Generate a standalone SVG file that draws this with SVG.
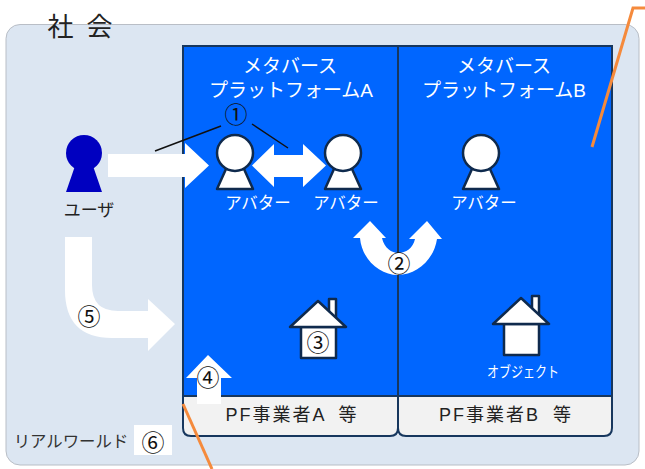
<svg xmlns="http://www.w3.org/2000/svg" width="645" height="469" viewBox="0 0 645 469">
<style>
text{font-family:"Liberation Sans","Noto Sans CJK JP",sans-serif;text-anchor:middle}
.w{fill:#fff}
.k{fill:#222}
.n{fill:#111;font-size:23px}
.t{font-size:19px}
.s{font-size:18px;letter-spacing:2px;word-spacing:6px}
.a{font-size:16.500px}
.av circle,.av path,.house path{fill:#fff;stroke:#0f2a4d;stroke-width:2.500;stroke-linejoin:round}
.arrow{fill:#fff}
.or{fill:none;stroke:#f58a3c;stroke-width:3}
.ln{stroke:#111;stroke-width:1.500;fill:none}
</style>
<defs>
<g id="avatar" class="av"><path d="M-9 16H9L18 36H-18Z"/><circle cy="0" r="18"/></g>
<g id="house" class="house"><path d="M11-29H18V-8H11Z"/><path d="M-17-1H18V30H-17Z"/><path d="M0-27L28 -1H-28Z"/></g>
</defs>
<g id="society">
<rect x="6" y="24.500" width="633" height="440.500" rx="14" fill="#dce6f2" stroke="#b9bec6" stroke-width="1"/>
<text x="80" y="36" class="k" font-size="26" word-spacing="6" xml:space="preserve">社 会</text>
</g>
<g id="platform-a">
<path d="M183 46H398V396H183Z" fill="#0066ff"/>
<path d="M183 396H398V428Q398 436 390 436H191Q183 436 183 428Z" fill="#f2f2f2"/>
<path d="M398 46H183V428Q183 436 191 436H390Q398 436 398 428V46M183 396H398" fill="none" stroke="#17375e" stroke-width="2"/>
<text x="290" y="73" class="w t">メタバース</text>
<text x="291" y="97" class="w t">プラットフォームA</text>
<text x="292" y="421" class="k s" xml:space="preserve">PF事業者A 等</text>
</g>
<g id="platform-b">
<path d="M398 46H612V396H398Z" fill="#0066ff"/>
<path d="M398 396H612V428Q612 436 604 436H406Q398 436 398 428Z" fill="#f2f2f2"/>
<path d="M398 46H612V428Q612 436 604 436H406Q398 436 398 428V46M398 396H612" fill="none" stroke="#17375e" stroke-width="2"/>
<text x="504" y="73" class="w t">メタバース</text>
<text x="504" y="97" class="w t">プラットフォームB</text>
<text x="506" y="421" class="k s" xml:space="preserve">PF事業者B 等</text>
</g>
<g id="connectors">
<path class="arrow" d="M108 154H185V143L209 165.500 185 188V177H108Z"/>
<path class="arrow" d="M252 165.500L274 144V155H303V144L326 165.500 303 187V177H274V187Z"/>
<path class="arrow" d="M65 237H92V285Q92 311 118 311H148V299L175 324 148 351V338H112Q65 338 65 290Z"/>
<path class="arrow" d="M208 355L232 378H221V404H197V378H186Z"/>
<path class="arrow" d="M370 221L386 238H382C384 248 392 253 398 253C406 253 413 248 415 239H409L427 221 442 239H437C434 260 416 275 398 275C380 275 362 260 360 238H353Z"/>
<path class="ln" d="M155 151L221 126M252 124L288 148"/>
<path class="or" d="M645 8H633L592 147"/>
<path class="or" d="M183 404L212 469"/>
</g>
<g id="user">
<circle cx="84" cy="153" r="18" fill="#0000c0"/>
<path d="M75 166H93L102 192H66Z" fill="#0000c0"/>
<text x="89" y="216" class="k" font-size="17">ユーザ</text>
</g>
<g id="avatar-a1"><use href="#avatar" x="235" y="153"/><text x="258" y="209" class="w a">アバター</text></g>
<g id="avatar-a2"><use href="#avatar" x="343" y="153"/><text x="346" y="209" class="w a">アバター</text></g>
<g id="avatar-b"><use href="#avatar" x="481" y="153"/><text x="484" y="209" class="w a">アバター</text></g>
<g id="object-a"><use href="#house" x="318" y="328"/></g>
<g id="object-b"><use href="#house" x="521" y="325"/><text x="523" y="377" class="w" font-size="15" textLength="72" lengthAdjust="spacingAndGlyphs">オブジェクト</text></g>
<g id="labels">
<text x="236" y="123" class="n">①</text>
<text x="399" y="272" class="n">②</text>
<text x="318" y="351" class="n">③</text>
<text x="208" y="386" class="n">④</text>
<text x="89" y="325" class="n">⑤</text>
<text x="71" y="447" fill="#333" font-size="16.400">リアルワールド</text>
<rect x="134" y="425" width="38" height="30" fill="#fff"/>
<text x="153" y="451" class="n">⑥</text>
</g>
</svg>
